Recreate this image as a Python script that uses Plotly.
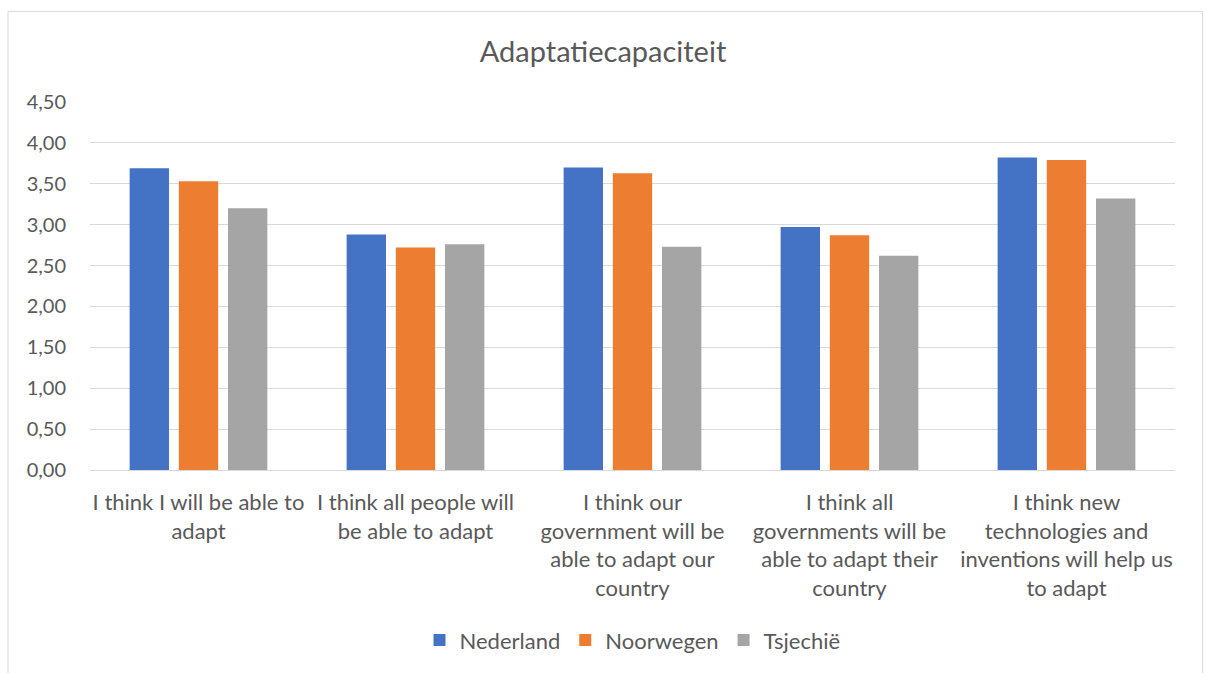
import plotly.graph_objects as go

categories = [
    "I think I will be able to<br>adapt",
    "I think all people will<br>be able to adapt",
    "I think our<br>government will be<br>able to adapt our<br>country",
    "I think all<br>governments will be<br>able to adapt their<br>country",
    "I think new<br>technologies and<br>inventions will help us<br>to adapt",
]
series_names = ["Nederland", "Noorwegen", "Tsjechië"]
nederland = [3.69, 2.88, 3.70, 2.97, 3.82]
noorwegen = [3.53, 2.72, 3.63, 2.87, 3.79]
tsjechie = [3.20, 2.76, 2.73, 2.62, 3.32]
colors = ["#4472C4", "#ED7D31", "#A5A5A5"]
title = "Adaptatiecapaciteit"

FONT = "Lato, 'Open Sans', sans-serif"
TXT = "#595959"

fig = go.Figure()
for name, vals, col in zip(series_names, [nederland, noorwegen, tsjechie], colors):
    fig.add_trace(go.Bar(x=categories, y=vals, name=name,
                         marker=dict(color=col, line=dict(width=0))))

# plot area in px: x 90..1175, y 102..471
L, R, T, B = 90, 31, 102, 199
W, H = 1206, 673
pw = W - L - R
ph = H - T - B

def px2paperx(px):
    return (px - L) / pw

def px2papery(py):
    return (H - B - py) / ph

fig.update_layout(
    width=W, height=H,
    margin=dict(l=L, r=R, t=T, b=B),
    paper_bgcolor="white", plot_bgcolor="white",
    font=dict(family=FONT, color=TXT, size=20),
    separators=",.",
    barmode="group", bargap=0.32, bargroupgap=0.2,
    title=dict(text=title, x=0.5, xanchor="center", y=1 - 52 / H, yanchor="middle",
               font=dict(size=29, color=TXT, family=FONT)),
    xaxis=dict(showgrid=False, showline=False, ticks="", tickangle=0,
               tickfont=dict(size=22, color=TXT), automargin=False,
               ticklabelstandoff=17),
    yaxis=dict(range=[0, 4.5], dtick=0.5, tickformat=".2f", showgrid=True,
               gridcolor="#D9D9D9", gridwidth=1, zeroline=True, zerolinecolor="#D9D9D9",
               zerolinewidth=1, showline=False, ticks="", ticklen=0,
               tickfont=dict(size=20, color=TXT), automargin=False,
               ticklabelstandoff=23),
    showlegend=True,
    legend=dict(orientation="h", x=0.5, xanchor="center",
                y=px2papery(646), yanchor="middle",
                font=dict(size=22, color=TXT), itemwidth=30, traceorder="normal"),
    shapes=[dict(type="rect", xref="paper", yref="paper",
                 x0=px2paperx(8), x1=px2paperx(1202.5),
                 y0=px2papery(690), y1=px2papery(10.5),
                 line=dict(color="#D9D9D9", width=1), fillcolor="rgba(0,0,0,0)",
                 layer="below")],
)

fig.write_html("out.html")
